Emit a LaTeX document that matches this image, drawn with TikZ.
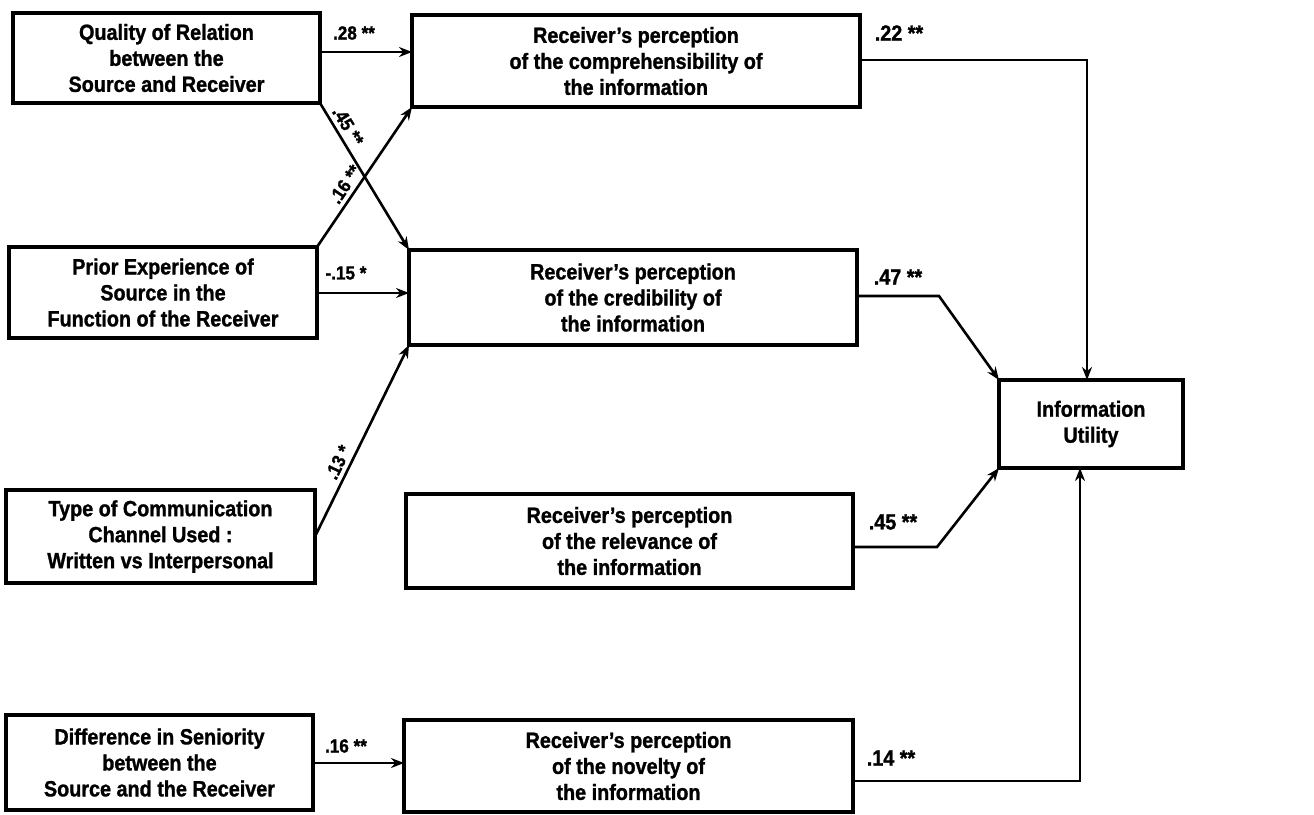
\documentclass[tikz,border=0pt]{standalone}
\usepackage{fontspec}
\setmainfont{Liberation Sans}[FakeStretch=0.9, BoldFeatures={FakeBold=1.2}]
\usetikzlibrary{arrows.meta}
\begin{document}
\begin{tikzpicture}[x=1pt,y=-1pt,
  box/.style={draw, line width=3.6pt, inner sep=0pt, outer sep=0pt, align=center, font=\bfseries\fontsize{22}{26}\selectfont},
  arr/.style={line width=2.6pt, -{Stealth[length=13pt,width=10pt]}},
  lab/.style={font=\bfseries\fontsize{19}{22}\selectfont, inner sep=4pt},
  labr/.style={font=\bfseries\fontsize{22}{24}\selectfont, inner sep=1pt}]
\useasboundingbox (0,0) rectangle (1314,814);
% boxes
\node[box, minimum width=307pt, minimum height=90pt] (q) at (166.5,58) {Quality of Relation\\between the\\Source and Receiver};
\node[box, minimum width=448pt, minimum height=92pt] (comp) at (636,61) {Receiver's perception\\of the comprehensibility of\\the information};
\node[box, minimum width=308pt, minimum height=91pt] (p) at (163,292.5) {Prior Experience of\\Source in the\\Function of the Receiver};
\node[box, minimum width=448pt, minimum height=95pt] (cred) at (633,297.5) {Receiver's perception\\of the credibility of\\the information};
\node[box, minimum width=309pt, minimum height=93pt] (t) at (160.5,536.5) {Type of Communication\\Channel Used :\\Written vs Interpersonal};
\node[box, minimum width=447pt, minimum height=94pt] (rel) at (629.5,541) {Receiver's perception\\of the relevance of\\the information};
\node[box, minimum width=307pt, minimum height=95pt] (d) at (159.5,762.5) {Difference in Seniority\\between the\\Source and the Receiver};
\node[box, minimum width=449pt, minimum height=92pt] (nov) at (628.5,766) {Receiver's perception\\of the novelty of\\the information};
\node[box, minimum width=184pt, minimum height=88pt] (info) at (1091,424) {Information\\Utility};
% helper coordinates
\coordinate (y52) at (0,52);
\coordinate (y293) at (0,293);
\coordinate (y763) at (0,763);
\coordinate (c22) at (1087,60);
\coordinate (c47) at (939,296);
\coordinate (c45) at (937,547);
\coordinate (c14) at (1080,781);
% left arrows
\draw[arr] (q.east |- y52) -- (comp.west |- y52);
\node[lab] (l28) at (354,33) {.28 **};
\draw[arr] (q.south east) -- node[lab, pos=0.2, sloped, above] (l45a) {.45 **} (cred.north west);
\draw[arr] (p.north east) -- node[lab, pos=0.4, sloped, above] (l16a) {.16 **} (comp.south west);
\draw[arr] (p.east |- y293) -- (cred.west |- y293);
\node[lab] (l15) at (346,273) {-.15 *};
\draw[arr] (t.east) -- node[lab, pos=0.36, sloped, above] (l13) {.13 *} (cred.south west);
\draw[arr] (d.east |- y763) -- (nov.west |- y763);
\node[lab] (l16b) at (346,746) {.16 **};
% right arrows
\draw[arr] (comp.east |- c22) -- (c22) -- (c22 |- info.north);
\node[labr] (l22) at (899,33) {.22 **};
\draw[arr] (cred.east |- c47) -- (c47) -- (info.north west);
\node[labr] (l47) at (898,277) {.47 **};
\draw[arr] (rel.east |- c45) -- (c45) -- (info.south west);
\node[labr] (l45b) at (893,522) {.45 **};
\draw[arr] (nov.east |- c14) -- (c14) -- (c14 |- info.south);
\node[labr] (l14) at (891,758) {.14 **};
\end{tikzpicture}
\end{document}
